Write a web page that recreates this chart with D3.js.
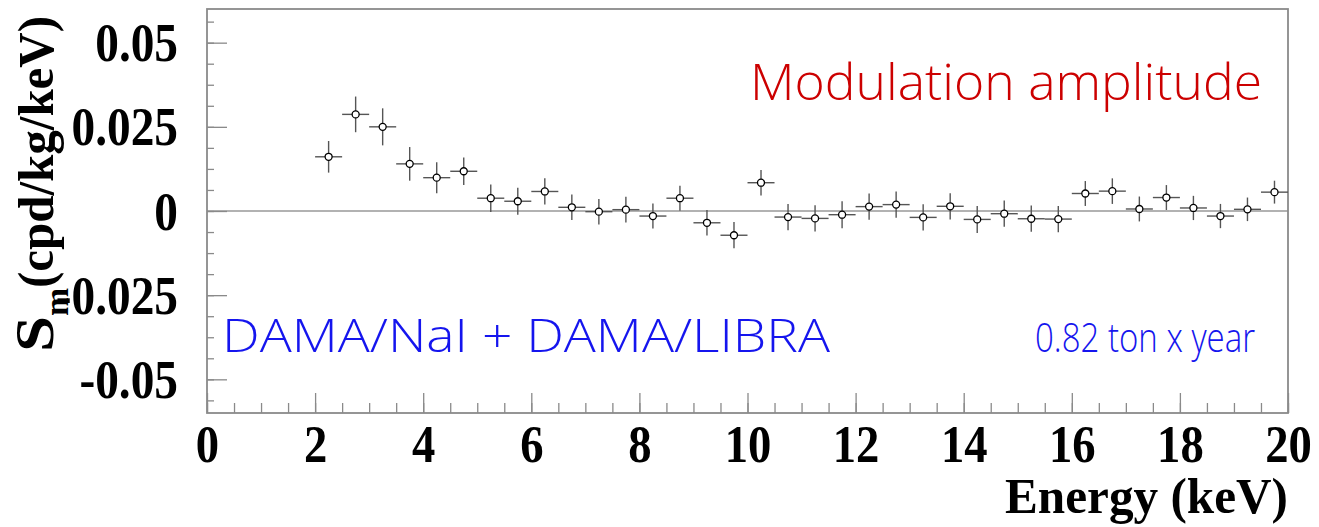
<!DOCTYPE html>
<html>
<head>
<meta charset="utf-8">
<script src="https://cdn.jsdelivr.net/npm/d3@7"></script>
<style>
  body { margin: 0; background: #fff; }
  svg { display: block; }
</style>
</head>
<body>
<div id="chart-area"></div>
<script>
// energy bins (keV, bin centres) and modulation amplitude with errors
var energy = [2.25, 2.75, 3.25, 3.75, 4.25, 4.75, 5.25, 5.75, 6.25, 6.75, 7.25, 7.75,
              8.25, 8.75, 9.25, 9.75, 10.25, 10.75, 11.25, 11.75, 12.25, 12.75, 13.25, 13.75,
              14.25, 14.75, 15.25, 15.75, 16.25, 16.75, 17.25, 17.75, 18.25, 18.75, 19.25, 19.75];
var sm = [0.0161, 0.0287, 0.0250, 0.0140, 0.0099, 0.0118, 0.0038, 0.0029, 0.0058, 0.0011, -0.0002, 0.0004,
          -0.0015, 0.0038, -0.0035, -0.0072, 0.0084, -0.0018, -0.0022, -0.0011, 0.0013, 0.0019, -0.0019, 0.0014,
          -0.0025, -0.0008, -0.0023, -0.0024, 0.0052, 0.0059, 0.0006, 0.0040, 0.0009, -0.0015, 0.0005, 0.0056];
var smErr = [0.0047, 0.0053, 0.0055, 0.0050, 0.0046, 0.0041, 0.0041, 0.0040, 0.0039, 0.0038, 0.0038, 0.0038,
             0.0037, 0.0037, 0.0038, 0.0039, 0.0038, 0.0039, 0.0039, 0.0040, 0.0039, 0.0039, 0.0039, 0.0039,
             0.0040, 0.0039, 0.0039, 0.0039, 0.0037, 0.0038, 0.0037, 0.0037, 0.0036, 0.0036, 0.0035, 0.0034];
var binHalf = 0.25;

var xTickValues = [0, 2, 4, 6, 8, 10, 12, 14, 16, 18, 20];
var yTickValues = [-0.05, -0.025, 0, 0.025, 0.05];
var yTickLabels = ["-0.05", "-0.025", "0", "0.025", "0.05"];

var W = 1319, H = 527;
var margin = { left: 207, right: 31, top: 9, bottom: 114 };
var width = W - margin.left - margin.right,
    height = H - margin.top - margin.bottom;

var svg = d3.select("#chart-area")
    .append("svg")
    .attr("width", W)
    .attr("height", H);

var g = svg.append("g")
    .attr("transform", "translate(" + margin.left + ", " + margin.top + ")");

var x = d3.scaleLinear().domain([0, 20]).range([0, width]);
var y = d3.scaleLinear().domain([-0.06, 0.06]).range([height, 0]);

var serif = "'Liberation Serif', 'Times New Roman', serif";
var frameColour = "#8a8a8a";

// squeeze a text element horizontally
function squeeze(sel, f) {
    sel.each(function() {
        var w = this.getComputedTextLength();
        d3.select(this).attr("textLength", w * f).attr("lengthAdjust", "spacingAndGlyphs");
    });
}

// zero line
g.append("line")
    .attr("x1", 0).attr("x2", width)
    .attr("y1", y(0)).attr("y2", y(0))
    .attr("stroke", "#999").attr("stroke-width", 1.6);

// minor ticks
var xMinor = d3.range(0, 20.01, 0.5);
var yMinor = d3.range(-0.05625, 0.0563, 0.00625);

g.append("g")
    .attr("transform", "translate(0," + height + ")")
    .call(d3.axisBottom(x).tickValues(xMinor).tickSize(-10).tickFormat(""))
    .call(a => a.select(".domain").remove())
    .selectAll("line").attr("stroke", frameColour).attr("stroke-width", 1.3);

g.append("g")
    .call(d3.axisLeft(y).tickValues(yMinor).tickSize(-7).tickFormat(""))
    .call(a => a.select(".domain").remove())
    .selectAll("line").attr("stroke", frameColour).attr("stroke-width", 1.3);

// major ticks + labels
var xAxis = g.append("g")
    .attr("transform", "translate(0," + height + ")")
    .call(d3.axisBottom(x).tickValues(xTickValues).tickSizeInner(-20).tickSizeOuter(0).tickPadding(48)
        .tickFormat(d3.format("d")));
xAxis.select(".domain").remove();
xAxis.selectAll("line").attr("stroke", frameColour).attr("stroke-width", 1.3);
xAxis.selectAll("text")
    .attr("dy", null)
    .attr("y", 49)
    .style("font-family", serif).style("font-weight", "bold").style("font-size", "53px")
    .attr("fill", "#000")
    .call(squeeze, 0.88);

var yAxis = g.append("g")
    .call(d3.axisLeft(y).tickValues(yTickValues).tickSizeInner(-20).tickSizeOuter(0).tickPadding(29)
        .tickFormat((d, i) => yTickLabels[i]));
yAxis.select(".domain").remove();
yAxis.selectAll("line").attr("stroke", frameColour).attr("stroke-width", 1.3);
yAxis.selectAll("text")
    .attr("dy", null)
    .attr("y", 18)
    .style("font-family", serif).style("font-weight", "bold").style("font-size", "55px")
    .attr("fill", "#000")
    .call(squeeze, 0.86);

// frame
g.append("rect")
    .attr("width", width).attr("height", height)
    .attr("fill", "none").attr("stroke", frameColour).attr("stroke-width", 1.8);

// data points
var data = energy.map(function(e, i) { return { e: e, v: sm[i], err: smErr[i] }; });

var pts = g.selectAll(".pt")
    .data(data)
    .enter()
    .append("g")
    .attr("class", "pt");

pts.append("line")
    .attr("x1", d => x(d.e - binHalf)).attr("x2", d => x(d.e + binHalf))
    .attr("y1", d => y(d.v)).attr("y2", d => y(d.v))
    .attr("stroke", "#555").attr("stroke-width", 1.4);
pts.append("line")
    .attr("x1", d => x(d.e)).attr("x2", d => x(d.e))
    .attr("y1", d => y(d.v - d.err)).attr("y2", d => y(d.v + d.err))
    .attr("stroke", "#555").attr("stroke-width", 1.4);
pts.append("circle")
    .attr("cx", d => x(d.e)).attr("cy", d => y(d.v))
    .attr("r", 3.5)
    .attr("fill", "#fff").attr("stroke", "#000").attr("stroke-width", 1.3);

// axis titles
svg.append("text")
    .attr("x", 1288).attr("y", 513)
    .attr("text-anchor", "end")
    .style("font-family", serif).style("font-weight", "bold").style("font-size", "50px")
    .attr("textLength", 283).attr("lengthAdjust", "spacingAndGlyphs")
    .text("Energy (keV)");

var yTitle = svg.append("text")
    .attr("transform", "translate(53,352) rotate(-90)")
    .style("font-family", serif).style("font-weight", "bold").style("font-size", "50px");
yTitle.append("tspan").text("S").style("font-size", "54px")
    .attr("textLength", 36).attr("lengthAdjust", "spacingAndGlyphs");
yTitle.append("tspan").text("m").style("font-size", "34px").attr("dy", 15)
    .attr("textLength", 28).attr("lengthAdjust", "spacingAndGlyphs");
yTitle.append("tspan").text("(cpd/kg/keV)").attr("dy", -15)
    .attr("textLength", 272).attr("lengthAdjust", "spacingAndGlyphs");

// labels inside the plot
var hand = "'Open Sans', 'Noto Sans', sans-serif";
svg.append("text")
    .attr("x", 750).attr("y", 100)
    .style("font-family", hand).style("font-weight", 300).style("font-size", "50px")
    .attr("fill", "#cc0000")
    .attr("textLength", 512).attr("lengthAdjust", "spacingAndGlyphs")
    .text("Modulation amplitude");

svg.append("text")
    .attr("x", 222).attr("y", 352)
    .style("font-family", hand).style("font-weight", 300).style("font-size", "46px")
    .attr("fill", "#1515ee")
    .attr("textLength", 608).attr("lengthAdjust", "spacingAndGlyphs")
    .text("DAMA/NaI + DAMA/LIBRA");

svg.append("text")
    .attr("x", 1035).attr("y", 352)
    .style("font-family", hand).style("font-weight", 300).style("font-size", "40px")
    .attr("fill", "#1515ee")
    .attr("textLength", 220).attr("lengthAdjust", "spacingAndGlyphs")
    .text("0.82 ton x year");
</script>
</body>
</html>
